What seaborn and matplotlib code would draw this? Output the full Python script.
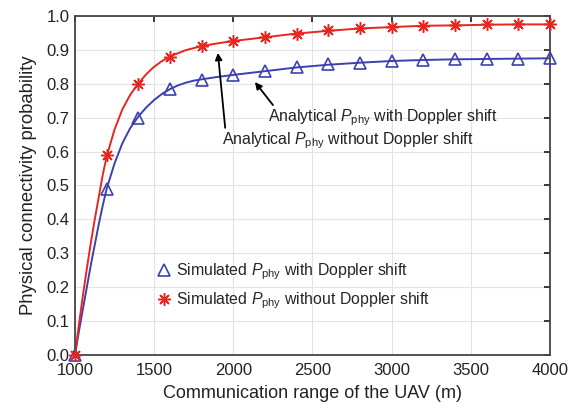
import numpy as np
import pandas as pd
import matplotlib
matplotlib.use('Agg')
import matplotlib.pyplot as plt
import seaborn as sns

# simulated points (markers)
sim_range = [1000, 1200, 1400, 1600, 1800, 2000, 2200, 2400, 2600, 2800,
             3000, 3200, 3400, 3600, 3800, 4000]
sim_with_doppler = [0.0, 0.49, 0.70, 0.785, 0.81, 0.825, 0.837, 0.848, 0.857, 0.862,
                    0.867, 0.870, 0.872, 0.873, 0.874, 0.875]
sim_without_doppler = [0.0, 0.59, 0.80, 0.88, 0.91, 0.925, 0.937, 0.948, 0.957, 0.963,
                       0.967, 0.971, 0.972, 0.975, 0.975, 0.975]

# analytical curves
ana_range = [1000, 1025, 1050, 1075, 1100, 1125, 1150, 1175, 1200, 1250, 1300, 1350,
             1400, 1450, 1500, 1550, 1600, 1650, 1700, 1750, 1800, 1900, 2000, 2200,
             2400, 2600, 2800, 3000, 3200, 3400, 3600, 3800, 4000]
ana_with_doppler = [0.0, 0.07, 0.135, 0.20, 0.265, 0.325, 0.385, 0.44, 0.49, 0.565, 0.625, 0.67,
                    0.703, 0.73, 0.752, 0.77, 0.784, 0.795, 0.803, 0.809, 0.813, 0.820, 0.826,
                    0.837, 0.848, 0.856, 0.862, 0.867, 0.870, 0.872, 0.873, 0.874, 0.875]
ana_without_doppler = [0.0, 0.09, 0.175, 0.255, 0.33, 0.40, 0.465, 0.53, 0.585, 0.665, 0.725, 0.768,
                       0.80, 0.828, 0.850, 0.867, 0.880, 0.890, 0.899, 0.905, 0.911, 0.919, 0.926,
                       0.937, 0.948, 0.956, 0.963, 0.967, 0.971, 0.972, 0.974, 0.975, 0.975]

red = '#e8261f'
blue = '#3c40b0'
txt = '#222222'

sns.set_theme(style='whitegrid')
plt.rcParams['font.family'] = ['Liberation Sans', 'DejaVu Sans']
plt.rcParams['mathtext.fontset'] = 'custom'
plt.rcParams['mathtext.rm'] = 'Liberation Sans'
plt.rcParams['mathtext.it'] = 'Liberation Sans:italic'

fig = plt.figure(figsize=(5.68, 4.08), dpi=100)
ax = fig.add_axes([0.132, 0.130, 0.836, 0.831])

ana = pd.DataFrame({'range': ana_range, 'with': ana_with_doppler, 'without': ana_without_doppler})
sim = pd.DataFrame({'range': sim_range, 'with': sim_with_doppler, 'without': sim_without_doppler})

sns.lineplot(data=ana, x='range', y='with', color=blue, linewidth=1.4, ax=ax)
sns.lineplot(data=ana, x='range', y='without', color=red, linewidth=1.4, ax=ax)

ax.plot(sim['range'], sim['with'], linestyle='none', marker='^', markersize=8,
        markerfacecolor='none', markeredgecolor=blue, markeredgewidth=1.2, clip_on=False,
        zorder=5, label=r'Simulated $P_{\mathrm{phy}}$ with Doppler shift')
ax.plot(sim['range'], sim['without'], linestyle='none', marker=(8, 2, 0), markersize=9,
        markeredgecolor=red, markeredgewidth=1.1, color=red, clip_on=False,
        zorder=6, label=r'Simulated $P_{\mathrm{phy}}$ without Doppler shift')

ax.set_xlim(1000, 4000)
ax.set_ylim(0, 1.0)
ax.set_xticks(np.arange(1000, 4001, 500))
ax.set_yticks(np.arange(0, 1.01, 0.1))
ax.set_yticklabels([f'{v:.1f}' for v in np.arange(0, 1.01, 0.1)])
ax.set_xlabel('Communication range of the UAV (m)', fontsize=13, color=txt, labelpad=5)
ax.set_ylabel('Physical connectivity probability', fontsize=13.3, color=txt, labelpad=7)
ax.tick_params(axis='both', labelsize=12, colors=txt, direction='in',
               length=4, top=True, right=True)
ax.tick_params(axis='x', pad=6)
ax.tick_params(axis='y', pad=4)
ax.grid(True, color='#e3e3e3', linewidth=0.8)
for s in ax.spines.values():
    s.set_color('#444444')
    s.set_linewidth(1.3)
    s.set_visible(True)

arrow = dict(arrowstyle='-|>', color='black', lw=1.3, shrinkA=0, shrinkB=0, mutation_scale=10)
ax.annotate('', xy=(2137, 0.805), xytext=(2251, 0.737), arrowprops=arrow)
ax.annotate('', xy=(1903, 0.891), xytext=(1949, 0.670), arrowprops=arrow)
ax.text(2219, 0.69, r'Analytical $P_{\mathrm{phy}}$ with Doppler shift',
        fontsize=11.4, color=txt)
ax.text(1928, 0.62, r'Analytical $P_{\mathrm{phy}}$ without Doppler shift',
        fontsize=11.4, color=txt)

ax.legend(loc='upper left', bbox_to_anchor=(0.15, 0.30), frameon=False, fontsize=11.4,
          handletextpad=0.2, handlelength=1.2, labelspacing=0.55, borderpad=0)

fig.savefig('out.png', dpi=100)
